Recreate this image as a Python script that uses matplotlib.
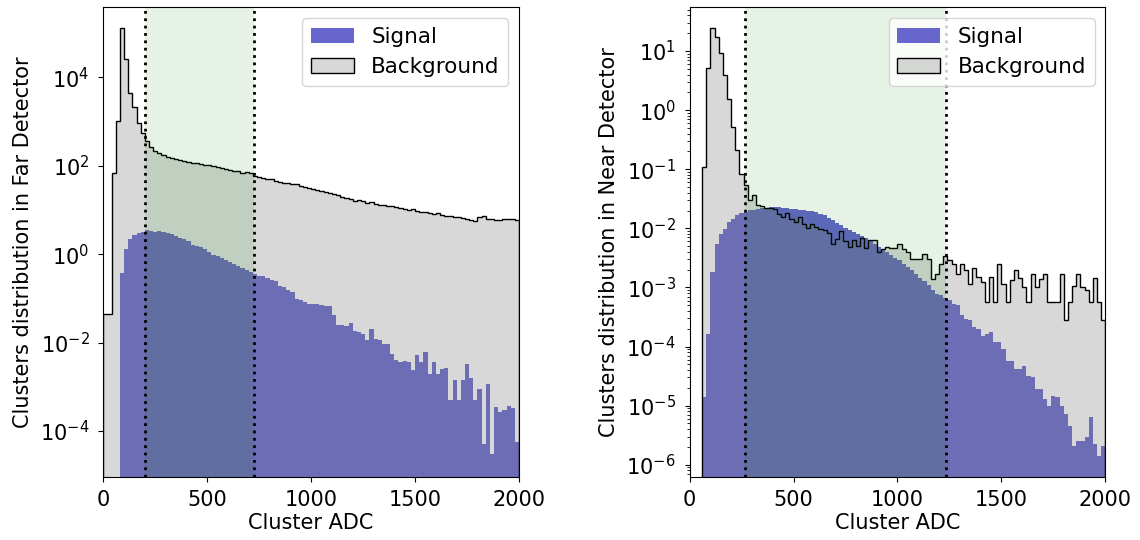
import numpy as np
import matplotlib.pyplot as plt

# 100 bins of 20 ADC from 0 to 2000
edges = np.arange(0, 2001, 20)
centres = 0.5 * (edges[1:] + edges[:-1])

far_bkg = [0.045, 0.045, 69, 1050, 1.29e5, 2.6e4, 4350, 2170, 910, 560,
           368, 269, 219, 190, 171, 160, 149, 142, 134, 128,
           121, 117, 113, 111, 105, 102, 96.6, 91.7, 88.5, 84.1,
           79.8, 77.1, 74.5, 69.5, 71.9, 68.2, 59.4, 56.4, 53.5, 50.8,
           49.1, 45.7, 43.4, 39.8, 41.2, 37.8, 38.4, 34.7, 33.5, 30.7,
           29.6, 28.1, 26.7, 25.3, 24.0, 22.4, 21.3, 19.9, 18.2, 17.6,
           16.1, 17.0, 15.8, 14.5, 15.0, 14.0, 13.3, 13.1, 12.4, 12.0,
           11.6, 11.0, 10.6, 9.9, 10.3, 9.25, 8.93, 8.78, 8.48, 7.91,
           8.63, 7.64, 7.38, 7.25, 6.76, 7.0, 6.53, 6.31, 5.89, 5.69,
           7.0, 7.25, 6.1, 6.1, 5.89, 5.89, 6.1, 6.31, 6.1, 5.89]

far_sig = [0, 0, 0, 0, 0.378, 1.34, 2.15, 2.69, 2.94, 3.10,
           3.49, 3.38, 3.10, 3.32, 3.10, 2.94, 2.79, 2.56, 2.34, 2.15,
           2.0, 1.60, 1.52, 1.42, 1.30, 1.13, 0.98, 0.90, 0.84, 0.757,
           0.67, 0.594, 0.545, 0.49, 0.435, 0.398, 0.352, 0.318, 0.329, 0.296,
           0.258, 0.245, 0.189, 0.182, 0.153, 0.140, 0.099, 0.091, 0.083, 0.076,
           0.074, 0.074, 0.070, 0.0665, 0.0665, 0.0416, 0.0247, 0.0247, 0.0234, 0.0279,
           0.0184, 0.0175, 0.016, 0.0113, 0.0207, 0.0123, 0.0113, 0.0095, 0.0095, 0.00544,
           0.00398, 0.00365, 0.00385, 0.00365, 0.00237, 0.00516, 0.00365, 0.00615, 0.00199, 0.00365,
           0.00199, 0.00258, 0.00272, 0.000512, 0.0014, 0.000512, 0.0014, 0.00335, 0.00161, 0.000495,
           0.00091, 5.2e-5, 0.00114, 2.96e-5, 0.000349, 0.000269, 0.000294, 0.000362, 0.000338, 5.6e-5]

near_bkg = [0, 0, 0, 0.107, 5.08, 24.2, 17.5, 9.37, 3.92, 1.52,
            0.522, 0.21, 0.0845, 0.0536, 0.0306, 0.0362, 0.0248, 0.0239, 0.0224, 0.0224,
            0.0215, 0.0177, 0.0156, 0.0182, 0.0142, 0.0128, 0.0156, 0.012, 0.0101, 0.0117,
            0.0105, 0.00975, 0.00925, 0.00834, 0.0055, 0.00668, 0.0089, 0.0061, 0.00483, 0.00627,
            0.00502, 0.00695, 0.0047, 0.00643, 0.00643, 0.00397, 0.00452, 0.00483, 0.0047, 0.0047,
            0.0055, 0.00452, 0.00397, 0.00306, 0.00306, 0.00306, 0.00362, 0.00306, 0.0014, 0.00166,
            0.00252, 0.00335, 0.00287, 0.00252, 0.00166, 0.00252, 0.00194, 0.00115, 0.00215, 0.0015,
            0.00123, 0.000564, 0.0015, 0.000564, 0.00245, 0.00115, 0.000564, 0.00131, 0.00199, 0.00146,
            0.00101, 0.000564, 0.00166, 0.00101, 0.0014, 0.00166, 0.000564, 0.000564, 0.000564, 0.00166,
            0.000283, 0.000564, 0.00104, 0.00166, 0.00101, 0.00089, 0.000564, 0.00146, 0.000564, 0.000283]

near_sig = [0, 0, 0, 1.38e-5, 1.64e-4, 0.00182, 0.00536, 0.00813, 0.00987, 0.0128,
            0.0146, 0.0166, 0.0182, 0.0189, 0.0202, 0.0207, 0.0215, 0.0221, 0.0224, 0.023,
            0.023, 0.023, 0.0224, 0.0221, 0.0215, 0.021, 0.0202, 0.0202, 0.0197, 0.0194,
            0.0192, 0.0177, 0.0166, 0.0152, 0.0137, 0.0123, 0.0112, 0.0101, 0.0095, 0.00867,
            0.00791, 0.00731, 0.00695, 0.00627, 0.0055, 0.00483, 0.00435, 0.00397, 0.00349, 0.00318,
            0.00287, 0.00252, 0.00221, 0.00194, 0.00171, 0.00146, 0.00126, 0.00108, 0.000912, 0.00076,
            0.000731, 0.000668, 0.000602, 0.000515, 0.000495, 0.000335, 0.000294, 0.000276, 0.000218, 0.000199,
            0.000153, 0.000164, 0.000175, 0.000118, 0.000118, 9.0e-5, 5.8e-5, 5.8e-5, 4.18e-5, 4.18e-5,
            4.76e-5, 3.22e-5, 3.02e-5, 1.91e-5, 1.91e-5, 1.3e-5, 1.0e-5, 1.48e-5, 1.38e-5, 1.0e-5,
            7.2e-6, 4.6e-6, 2.1e-6, 2.55e-6, 2.48e-6, 2.9e-6, 6.3e-6, 2.24e-6, 1.42e-6, 2.1e-6]

far_window = (200, 724)
near_window = (265, 1232)

plt.rcParams['font.size'] = 15
plt.rcParams['xtick.major.pad'] = 6.5
plt.rcParams['ytick.major.pad'] = 6.5

fig = plt.figure(figsize=(11.4, 5.4), dpi=100)
ax1 = fig.add_axes([0.0906, 0.1175, 0.3647, 0.869])
ax2 = fig.add_axes([0.6049, 0.1175, 0.3647, 0.869])

panels = [(ax1, far_sig, far_bkg, far_window, "Clusters distribution in Far Detector", (10**-5.03, 10**5.585)),
          (ax2, near_sig, near_bkg, near_window, "Clusters distribution in Near Detector", (10**-6.2, 10**1.74))]

for ax, sig, bkg, win, ylab, ylim in panels:
    ax.hist(centres, bins=edges, weights=sig, color='#6666cc', label='Signal')
    ax.hist(centres, bins=edges, weights=bkg, histtype='stepfilled',
            facecolor=(0.5, 0.5, 0.5, 0.3), edgecolor='k', linewidth=1, label='Background')
    ax.axvspan(win[0], win[1], color='green', alpha=0.1, lw=0)
    ax.axvline(win[0], color='k', ls=':', lw=2)
    ax.axvline(win[1], color='k', ls=':', lw=2)
    ax.set_yscale('log')
    ax.set_xlim(0, 2000)
    ax.set_ylim(*ylim)
    ax.set_xticks([0, 500, 1000, 1500, 2000])
    ax.set_xlabel("Cluster ADC", labelpad=2)
    ax.set_ylabel(ylab, labelpad=5)
    ax.legend(loc='upper right', fontsize=15.5)

fig.savefig("out.png", dpi=100)
